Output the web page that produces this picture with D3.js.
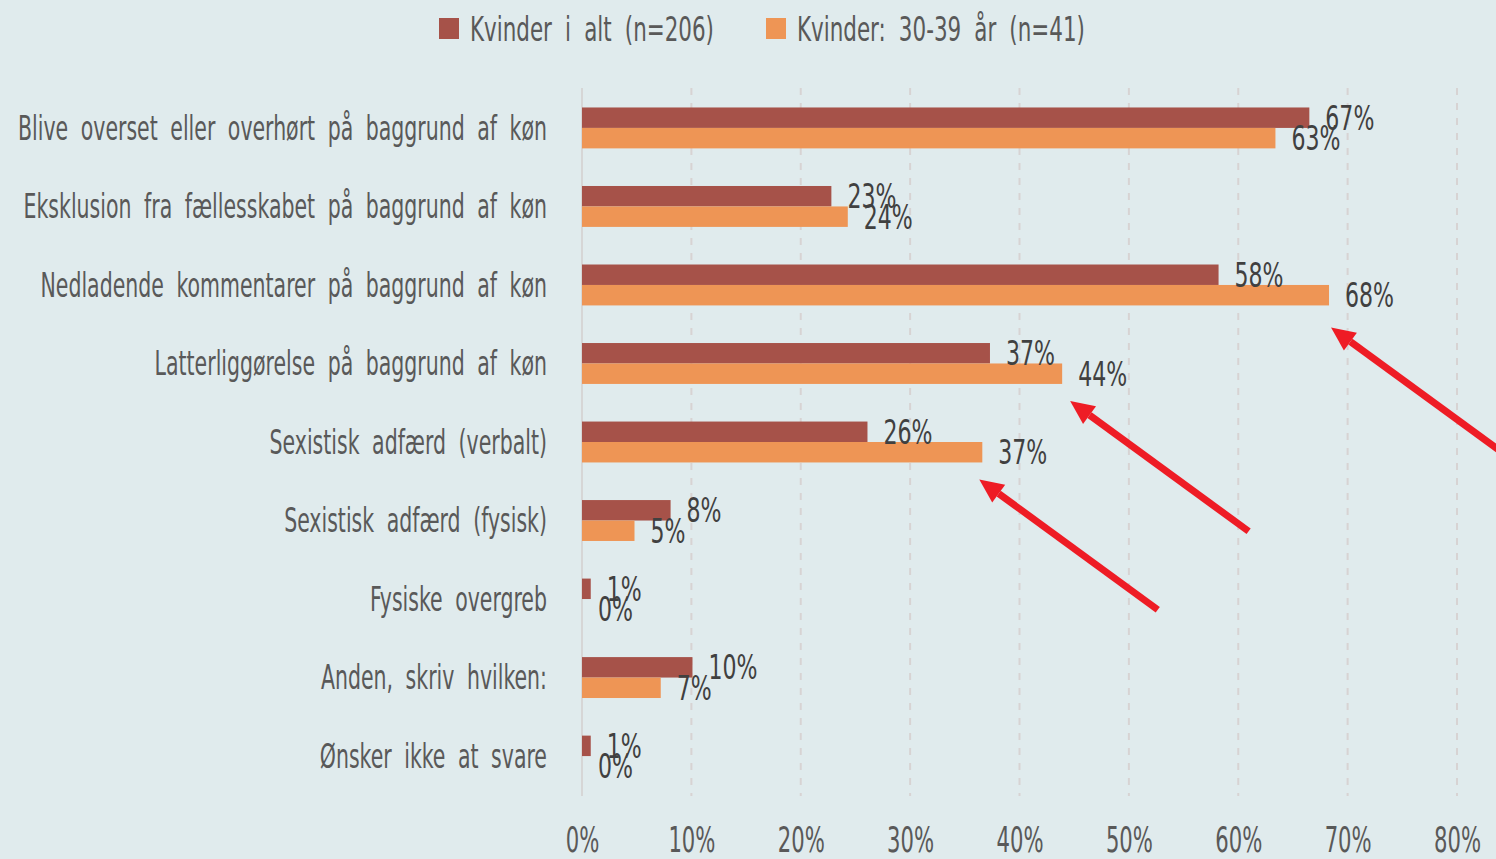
<!DOCTYPE html>
<html>
<head>
<meta charset="utf-8">
<script src="https://cdn.jsdelivr.net/npm/d3@7"></script>
<style>
  html, body { margin: 0; padding: 0; background: #e0ebed; }
  text { font-family: "DejaVu Sans Condensed", "Liberation Sans Narrow", sans-serif; }
</style>
</head>
<body>
<div id="chart"></div>
<script>
// categories (top to bottom)
var categories = [
  "Blive overset eller overhørt på baggrund af køn",
  "Eksklusion fra fællesskabet på baggrund af køn",
  "Nedladende kommentarer på baggrund af køn",
  "Latterliggørelse på baggrund af køn",
  "Sexistisk adfærd (verbalt)",
  "Sexistisk adfærd (fysisk)",
  "Fysiske overgreb",
  "Anden, skriv hvilken:",
  "Ønsker ikke at svare"
];
var seriesNames = ["Kvinder i alt (n=206)", "Kvinder: 30-39 år (n=41)"];
var allWomen = [66.5, 22.8, 58.2, 37.3, 26.1, 8.1, 0.8, 10.1, 0.8];
var women3039 = [63.4, 24.3, 68.3, 43.9, 36.6, 4.8, 0, 7.2, 0];
var xTicks = [0, 10, 20, 30, 40, 50, 60, 70, 80];
// red arrows pointing at the 30-39 bars (category index)
var arrowTargets = [2, 3, 4];

var W = 1496, H = 859;
var margin = {top: 88, right: 39, bottom: 63, left: 582};
var colors = ["#a65249", "#ee9555"];

// the original uses a very narrow font, so squeeze the glyphs horizontally
function condense(sel, f) {
  sel.each(function () {
    var w = this.getComputedTextLength();
    d3.select(this).attr("textLength", w * f).attr("lengthAdjust", "spacingAndGlyphs");
  });
}
function widthOf(str, size, spacing) {
  var t = svg.append("text").style("font-size", size + "px")
      .style("word-spacing", (spacing || 0) + "px").text(str);
  var w = t.node().getComputedTextLength();
  t.remove();
  return w;
}

var svg = d3.select("#chart").append("svg")
    .attr("width", W).attr("height", H);

svg.append("rect").attr("width", W).attr("height", H).attr("fill", "#e0ebed");

var fCat = 529 / widthOf(categories[0], 34, 9);
var fLab = 49 / widthOf("67%", 34);
var fTick = 47 / widthOf("80%", 35);
var fLeg = 244 / widthOf(seriesNames[0], 34, 9);

var x = d3.scaleLinear().domain([0, 80]).range([margin.left, W - margin.right]);
var y = d3.scaleBand().domain(categories)
    .range([margin.top, H - margin.bottom])
    .paddingInner(0.479).paddingOuter(0.248);
var ys = d3.scaleBand().domain([0, 1]).range([0, y.bandwidth()]);

// dashed gridlines
svg.append("g").selectAll("line")
    .data(xTicks.slice(1))
    .enter().append("line")
    .attr("x1", function (d) { return x(d); })
    .attr("x2", function (d) { return x(d); })
    .attr("y1", margin.top)
    .attr("y2", H - margin.bottom)
    .attr("stroke", "#d7d3d3")
    .attr("stroke-width", 2)
    .attr("stroke-dasharray", "7,8");

// vertical axis line
svg.append("line")
    .attr("x1", x(0)).attr("x2", x(0))
    .attr("y1", margin.top).attr("y2", H - margin.bottom)
    .attr("stroke", "#d6d6d6").attr("stroke-width", 2);

// x axis tick labels
var xAxis = d3.axisBottom(x).tickValues(xTicks)
    .tickFormat(function (d) { return d + "%"; })
    .tickSize(0).tickPadding(0);
var gx = svg.append("g")
    .attr("transform", "translate(0," + (H - margin.bottom) + ")")
    .call(xAxis);
gx.select(".domain").remove();
gx.selectAll("text")
    .attr("y", 0)
    .attr("dy", "0.35em")
    .attr("transform", "translate(0,44)")
    .attr("fill", "#595959")
    .style("font-size", "35px")
    .style("font-family", "DejaVu Sans Condensed, sans-serif")
    .call(condense, fTick);

// category labels
svg.append("g").selectAll("text")
    .data(categories)
    .enter().append("text")
    .attr("x", margin.left - 35)
    .attr("y", function (d) { return y(d) + y.bandwidth() / 2; })
    .attr("dy", "0.35em")
    .attr("text-anchor", "end")
    .attr("fill", "#595959")
    .style("font-size", "34px")
    .style("word-spacing", "9px")
    .text(function (d) { return d; })
    .call(condense, fCat);

// bars
var rows = categories.map(function (c, i) {
  return {cat: c, vals: [allWomen[i], women3039[i]]};
});
var grp = svg.append("g").selectAll("g")
    .data(rows)
    .enter().append("g")
    .attr("transform", function (d) { return "translate(0," + y(d.cat) + ")"; });

grp.selectAll("rect")
    .data(function (d) { return d.vals.map(function (v, j) { return {v: v, s: j}; }); })
    .enter().append("rect")
    .attr("x", x(0))
    .attr("y", function (d) { return ys(d.s); })
    .attr("width", function (d) { return x(d.v) - x(0); })
    .attr("height", ys.bandwidth())
    .attr("fill", function (d) { return colors[d.s]; });

// data labels
grp.selectAll("text")
    .data(function (d) { return d.vals.map(function (v, j) { return {v: v, s: j}; }); })
    .enter().append("text")
    .attr("x", function (d) { return x(d.v) + 16; })
    .attr("y", function (d) { return ys(d.s) + ys.bandwidth() / 2; })
    .attr("dy", "0.35em")
    .attr("fill", "#404040")
    .style("font-size", "34px")
    .text(function (d) { return Math.round(d.v) + "%"; })
    .call(condense, fLab);

// legend
var legend = svg.append("g").attr("transform", "translate(439,18)");
var lx = 0;
seriesNames.forEach(function (name, i) {
  var item = legend.append("g").attr("transform", "translate(" + lx + ",0)");
  item.append("rect").attr("width", 20).attr("height", 21).attr("fill", colors[i]);
  var t = item.append("text")
      .attr("x", 31).attr("y", 11).attr("dy", "0.35em")
      .attr("fill", "#595959")
      .style("font-size", "34px")
      .style("word-spacing", "9px")
      .text(name);
  var w = t.node().getComputedTextLength() * fLeg;
  t.attr("textLength", w).attr("lengthAdjust", "spacingAndGlyphs");
  lx += 31 + w + 52;
});

// red arrows
var arrows = svg.append("g");
arrowTargets.forEach(function (ci, k) {
  var cat = categories[ci];
  var tipX = x(women3039[ci]) + [2, 8, -3][k];
  var tipY = y(cat) + y.bandwidth() + [22, 17, 17][k];
  var ang = Math.atan2(130, 178);
  var len = 221;
  var tailX = tipX + len * Math.cos(ang), tailY = tipY + len * Math.sin(ang);
  var hl = 24, hw = 11;
  var bx = tipX + hl * Math.cos(ang), by = tipY + hl * Math.sin(ang);
  arrows.append("line")
      .attr("x1", tailX).attr("y1", tailY)
      .attr("x2", bx).attr("y2", by)
      .attr("stroke", "#ee1c25").attr("stroke-width", 7);
  var px = -Math.sin(ang), py = Math.cos(ang);
  arrows.append("path")
      .attr("d", "M" + tipX + "," + tipY +
        "L" + (bx + px * hw) + "," + (by + py * hw) +
        "L" + (bx - px * hw) + "," + (by - py * hw) + "Z")
      .attr("fill", "#ee1c25");
});
</script>
</body>
</html>
